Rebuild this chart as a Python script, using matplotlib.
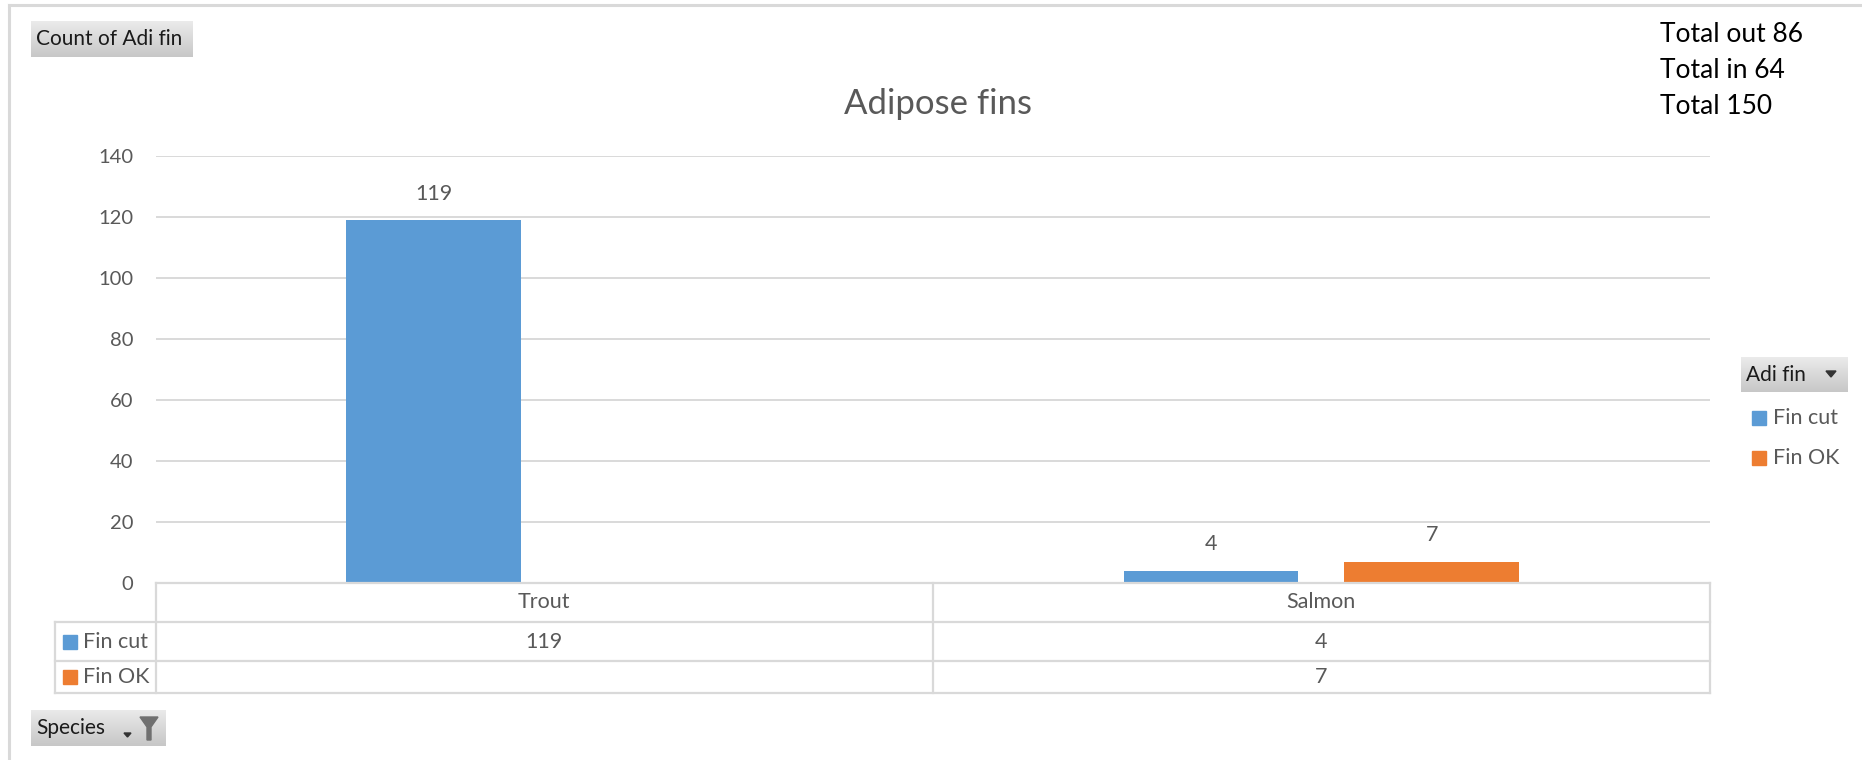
import numpy as np
import matplotlib.pyplot as plt
from matplotlib.patches import Rectangle, Polygon

# pivot chart values
species = ["Trout", "Salmon"]
series_names = ["Fin cut", "Fin OK"]
fin_cut = [119, 4]
fin_ok = [np.nan, 7]          # no "Fin OK" trout
y_ticks = [0, 20, 40, 60, 80, 100, 120, 140]
totals = ["Total out 86", "Total in 64", "Total 150"]

BLUE = "#5B9BD5"
ORANGE = "#ED7D31"
TEXT = "#595959"
GRID = "#D9D9D9"
FS = 15.5

W, H = 1862, 760
plt.rcParams["font.family"] = ["Lato", "DejaVu Sans"]

fig = plt.figure(figsize=(W / 100, H / 100), dpi=100)


def fx(px):
    return px / W


def fy(py):
    return 1 - py / H


# plot area in pixels (left, top, right, bottom)
L, T, R, B = 155.6, 156, 1710, 583
ax = fig.add_axes([fx(L), fy(B), fx(R - L), fy(T) - fy(B)])
ax.set_xlim(0, len(species))
ax.set_ylim(0, 140)

x = np.arange(len(species)) + 0.5
width, off = 0.225, 0.142
ax.bar(x - off, fin_cut, width, color=BLUE, zorder=3)
ax.bar(x + off, fin_ok, width, color=ORANGE, zorder=3)

# data labels
for xs, vals in ((x - off, fin_cut), (x + off, fin_ok)):
    for xi, v in zip(xs, vals):
        if np.isnan(v):
            continue
        ax.annotate(f"{v:g}", (xi, v), xytext=(0, 19), textcoords="offset points",
                    ha="center", va="center", fontsize=FS, color=TEXT)

ax.set_yticks(y_ticks)
ax.set_yticklabels([str(t) for t in y_ticks], fontsize=14.5, color=TEXT)
ax.set_xticks([])
ax.tick_params(axis="y", length=0, pad=16)
ax.yaxis.grid(True, color=GRID, linewidth=1.4, zorder=0)
for s in ax.spines.values():
    s.set_visible(False)

fig.text(fx(938), fy(104), "Adipose fins", ha="center", va="center",
         fontsize=25, color=TEXT)

# data table under the axis
rows = [B, 622, 661, 693]
mid = (L + R) / 2
line_kw = dict(color=GRID, linewidth=1.6, transform=fig.transFigure)
fig.add_artist(plt.Line2D([fx(L), fx(R)], [fy(B), fy(B)], **line_kw))
for ry in rows[1:]:
    fig.add_artist(plt.Line2D([fx(55), fx(R)], [fy(ry), fy(ry)], **line_kw))
for vx in (L, mid, R):
    fig.add_artist(plt.Line2D([fx(vx), fx(vx)], [fy(B), fy(rows[-1])], **line_kw))
fig.add_artist(plt.Line2D([fx(55), fx(55)], [fy(rows[1]), fy(rows[-1])], **line_kw))

col_centers = [L + (R - L) * (i + 0.5) / len(species) for i in range(len(species))]
for cx, name in zip(col_centers, species):
    fig.text(fx(cx), fy(602), name, ha="center", va="center", fontsize=FS, color=TEXT)

for r, (name, vals, col) in enumerate(zip(series_names, (fin_cut, fin_ok), (BLUE, ORANGE))):
    cy = (rows[r + 1] + rows[r + 2]) / 2
    fig.add_artist(Rectangle((fx(63), fy(cy + 7)), fx(14), fy(0) - fy(14),
                             color=col, transform=fig.transFigure))
    fig.text(fx(83), fy(cy), name, ha="left", va="center", fontsize=FS, color=TEXT)
    for cx, v in zip(col_centers, vals):
        if not np.isnan(v):
            fig.text(fx(cx), fy(cy), f"{v:g}", ha="center", va="center",
                     fontsize=FS, color=TEXT)

# legend at the right
for name, col, cy in zip(series_names, (BLUE, ORANGE), (418, 458)):
    fig.add_artist(Rectangle((fx(1752), fy(cy + 7)), fx(14), fy(0) - fy(14),
                             color=col, transform=fig.transFigure))
    fig.text(fx(1773), fy(cy), name, ha="left", va="center", fontsize=FS, color=TEXT)


# pivot field buttons with a grey gradient
def button(x0, y0, x1, y1, label):
    bax = fig.add_axes([fx(x0), fy(y1), fx(x1 - x0), fy(y0) - fy(y1)])
    grad = np.linspace(0.92, 0.78, 50)[:, None]
    bax.imshow(np.dstack([grad, grad, grad]), aspect="auto", extent=(0, 1, 0, 1))
    bax.set_xlim(0, 1)
    bax.set_ylim(0, 1)
    bax.axis("off")
    fig.text(fx(x0 + 5), fy((y0 + y1) / 2), label, ha="left", va="center",
             fontsize=15, color="#1a1a1a")
    return bax


button(31, 21, 193, 57, "Count of Adi fin")
button(1741, 357, 1848, 392, "Adi fin")
fig.add_artist(Polygon([(fx(1826), fy(371)), (fx(1836), fy(371)), (fx(1831), fy(377))],
                       color="#333333", transform=fig.transFigure))
button(31, 710, 166, 746, "Species")
fig.add_artist(Polygon([(fx(124), fy(733)), (fx(131), fy(733)), (fx(127.5), fy(737))],
                       color="#333333", transform=fig.transFigure))
fig.add_artist(Polygon([(fx(140), fy(717)), (fx(158), fy(717)), (fx(151), fy(727)),
                        (fx(151), fy(740)), (fx(147), fy(740)), (fx(147), fy(727))],
                       color="#707070", transform=fig.transFigure))

# totals note
for i, t in enumerate(totals):
    fig.text(fx(1660), fy(34 + 36 * i), t, ha="left", va="center", fontsize=19, color="black")

# chart frame
frame_kw = dict(color=GRID, linewidth=2.2, transform=fig.transFigure)
fig.add_artist(plt.Line2D([fx(9), fx(W)], [fy(5), fy(5)], **frame_kw))
fig.add_artist(plt.Line2D([fx(9), fx(9)], [fy(5), fy(H)], **frame_kw))

fig.savefig("out.png", dpi=100)
